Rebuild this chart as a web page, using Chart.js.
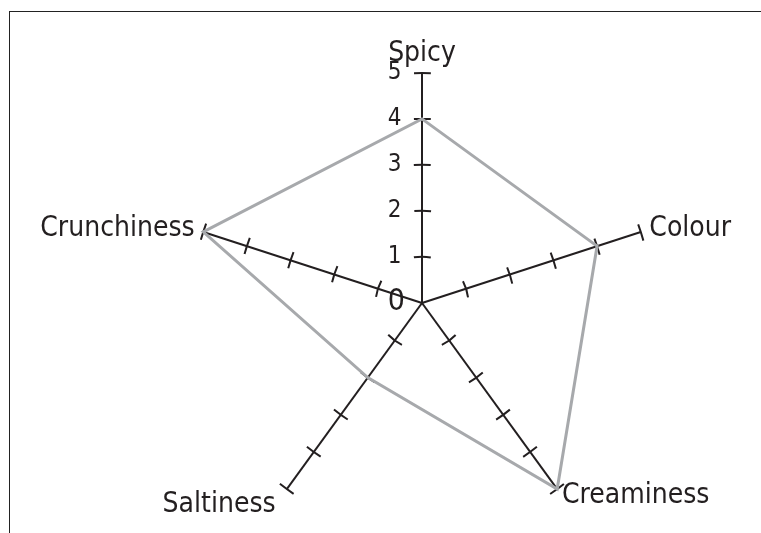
<!DOCTYPE html>
<html>
<head>
<meta charset="utf-8">
<script src="https://cdn.jsdelivr.net/npm/chart.js@4.4.1/dist/chart.umd.min.js"></script>
<style>
  html, body { margin: 0; padding: 0; background: #fff; overflow: hidden; }
  #wrap { position: relative; width: 761px; height: 533px; overflow: hidden; }
  #frame { position: absolute; left: 9px; top: 11px; width: 800px; height: 600px; border: 1px solid #222; }
  #chart { position: absolute; left: 0; top: 0; }
</style>
</head>
<body>
<div id="wrap">
  <div id="frame"></div>
  <!-- canvas runs a little past the window so the radar can sit right of centre -->
  <canvas id="chart" width="844" height="555"></canvas>
</div>
<script>
// data
var categories = ['Spicy', 'Colour', 'Creaminess', 'Saltiness', 'Crunchiness'];
var scores = [4, 4, 5, 2, 5];
var scaleMax = 5;
var scaleStep = 1;

var ink = '#231f20';
var fontFamily = "'DejaVu Sans Condensed', 'DejaVu Sans', sans-serif";
var tickLen = 17;
// distance of each axis name from the end of its spoke
var labelPad = [-2, -12, -13, -2, -12];

function tickDash(c) {
    if (!c.tick) return [];
    var r = c.scale.getDistanceFromCenterForValue(c.tick.value);
    var gap = 2 * Math.PI * r / categories.length - tickLen;
    return [tickLen, Math.max(gap, 0)];
}

function tickDashOffset(c) {
    if (!c.tick) return 0;
    var r = c.scale.getDistanceFromCenterForValue(c.tick.value);
    // arc starts at 3 o'clock, first spoke after it sits at 54 degrees
    return tickLen / 2 - 0.3 * Math.PI * r;
}

var ctx = document.getElementById('chart').getContext('2d');
var myChart = new Chart(ctx, {
    type: 'radar',
    data: {
        labels: categories,
        datasets: [{
            label: 'Score',
            data: scores,
            fill: false,
            borderColor: '#a7a9ac',
            borderWidth: 3,
            pointRadius: 0,
            pointHoverRadius: 0,
            tension: 0
        }]
    },
    options: {
        responsive: false,
        animation: false,
        layout: {
            padding: { left: 0, right: 0, top: 52, bottom: 0 }
        },
        plugins: {
            legend: { display: false },
            tooltip: { enabled: false }
        },
        scales: {
            r: {
                min: -0.01,
                max: scaleMax,
                angleLines: { display: true, color: ink, lineWidth: 2 },
                grid: {
                    circular: true,
                    color: ink,
                    lineWidth: function (c) { return c.index === 0 ? 0 : 2; }
                },
                border: {
                    dash: tickDash,
                    dashOffset: tickDashOffset
                },
                ticks: {
                    stepSize: scaleStep,
                    includeBounds: false,
                    showLabelBackdrop: false,
                    backdropPadding: { top: 9, bottom: 9, left: 0, right: 0 },
                    color: ink,
                    font: function (c) {
                        if (c.index === 0) return { family: fontFamily, size: 30 };
                        return { family: fontFamily, size: 24 };
                    },
                    callback: function (value, index) {
                        return index === 0 ? value + '\u2007\u2007\u2007' : value + '\u2007\u2007\u2007\u2007';
                    }
                },
                pointLabels: {
                    color: ink,
                    font: { family: fontFamily, size: 28, lineHeight: 0 },
                    padding: function (c) { return labelPad[c.index]; }
                }
            }
        }
    }
});
</script>
</body>
</html>
